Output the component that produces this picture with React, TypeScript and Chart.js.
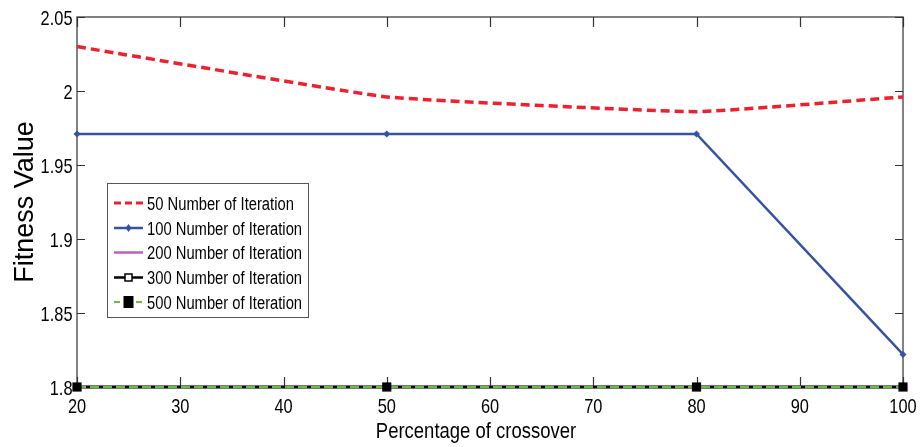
import React, { useEffect, useRef } from "react";
import { Chart, registerables } from "chart.js";

Chart.register(...registerables);

const crossover = [20, 50, 80, 100];
const iter50 = [2.03, 1.996, 1.986, 1.996];
const iter100 = [1.971, 1.971, 1.971, 1.822];
const iter200 = [1.8, 1.8, 1.8, 1.8];
const iter300 = [1.8, 1.8, 1.8, 1.8];
const iter500 = [1.8, 1.8, 1.8, 1.8];
const xTicks = [20, 30, 40, 50, 60, 70, 80, 90, 100];
const yTicks = [1.8, 1.85, 1.9, 1.95, 2, 2.05];
const xTitle = "Percentage of crossover";
const yTitle = "Fitness Value";
const legendLabels = [
  "50 Number of Iteration",
  "100 Number of Iteration",
  "200 Number of Iteration",
  "300 Number of Iteration",
  "500 Number of Iteration",
];

const RED = "#ef1f2b";
const BLUE = "#3553a6";
const MAGENTA = "#c05ec0";
const BLACK = "#000000";
const GREEN = "#68be44";
const SANS = "'Liberation Sans', Arial, sans-serif";

const pts = (ys: number[]) => crossover.map((x, i) => ({ x, y: ys[i] }));
const fmt = (v: any) => String(parseFloat(Number(v).toFixed(2)));

function squeezedText(ctx: any, text: string, x: number, y: number, size: number, sx: number, align: string) {
  ctx.save();
  ctx.translate(x, y);
  ctx.scale(sx, 1);
  ctx.font = `${size}px ${SANS}`;
  ctx.fillStyle = "#000";
  ctx.textAlign = align;
  ctx.textBaseline = "alphabetic";
  ctx.fillText(text, 0, 0);
  ctx.restore();
}

const framePlugin = {
  id: "frame",
  beforeDatasetsDraw(chart: any) {
    const { ctx, chartArea, scales } = chart;
    const { left, right, top, bottom } = chartArea;
    ctx.save();
    ctx.strokeStyle = "#5a5a5a";
    ctx.lineWidth = 1.5;
    ctx.strokeRect(left, top, right - left, bottom - top);
    ctx.strokeStyle = "#333";
    ctx.lineWidth = 1.2;
    ctx.beginPath();
    xTicks.forEach((v) => {
      const px = Math.round(scales.x.getPixelForValue(v)) + 0.5;
      ctx.moveTo(px, bottom);
      ctx.lineTo(px, bottom - 10);
      ctx.moveTo(px, top);
      ctx.lineTo(px, top + 10);
    });
    yTicks.forEach((v) => {
      const py = Math.round(scales.y.getPixelForValue(v)) + 0.5;
      ctx.moveTo(left, py);
      ctx.lineTo(left + 8, py);
      ctx.moveTo(right, py);
      ctx.lineTo(right - 8, py);
    });
    ctx.stroke();
    ctx.restore();
  },
  afterDraw(chart: any) {
    const { ctx, chartArea, scales } = chart;
    const { left, bottom } = chartArea;
    xTicks.forEach((v) => {
      const px = scales.x.getPixelForValue(v);
      squeezedText(ctx, fmt(v), px, bottom + 26, 21, 0.78, "center");
    });
    yTicks.forEach((v) => {
      const py = scales.y.getPixelForValue(v);
      squeezedText(ctx, fmt(v), left - 4.5, py + 7.5, 21, 0.78, "right");
    });
    const cx = (chartArea.left + chartArea.right) / 2 - 14;
    squeezedText(ctx, xTitle, cx, 438, 22, 0.84, "center");
  },
};

const legendPlugin = {
  id: "customLegend",
  afterDraw(chart: any) {
    const { ctx } = chart;
    const bx = 107, by = 183, bw = 201, bh = 134;
    ctx.save();
    ctx.fillStyle = "#fff";
    ctx.fillRect(bx, by, bw, bh);
    ctx.strokeStyle = "#555";
    ctx.lineWidth = 1;
    ctx.strokeRect(bx + 0.5, by + 0.5, bw, bh);
    const x0 = 114, x1 = 143, xc = 128.5;
    const rowY = [203, 228, 252.5, 277.5, 302];
    const styles = [
      { color: RED, dash: [7, 4], width: 3, marker: "" },
      { color: BLUE, dash: [], width: 2.5, marker: "diamond" },
      { color: MAGENTA, dash: [], width: 2.5, marker: "" },
      { color: BLACK, dash: [], width: 2.5, marker: "open" },
      { color: GREEN, dash: [6, 5], width: 2, marker: "filled" },
    ];
    styles.forEach((s, i) => {
      const y = rowY[i];
      ctx.strokeStyle = s.color;
      ctx.lineWidth = s.width;
      ctx.setLineDash(s.dash);
      ctx.beginPath();
      ctx.moveTo(x0, y);
      ctx.lineTo(x1, y);
      ctx.stroke();
      ctx.setLineDash([]);
      if (s.marker === "diamond") {
        ctx.fillStyle = BLUE;
        ctx.beginPath();
        ctx.moveTo(xc, y - 4);
        ctx.lineTo(xc + 3, y);
        ctx.lineTo(xc, y + 4);
        ctx.lineTo(xc - 3, y);
        ctx.closePath();
        ctx.fill();
      } else if (s.marker === "open") {
        ctx.fillStyle = "#fff";
        ctx.fillRect(xc - 3.5, y - 3.5, 7, 7);
        ctx.strokeStyle = BLACK;
        ctx.lineWidth = 1.5;
        ctx.strokeRect(xc - 3.5, y - 3.5, 7, 7);
      } else if (s.marker === "filled") {
        ctx.fillStyle = BLACK;
        ctx.fillRect(xc - 5, y - 6, 10, 12);
      }
      squeezedText(ctx, legendLabels[i], 147, y + 6.5, 18, 0.82, "left");
    });
    ctx.restore();
  },
};

export default function App() {
  const ref = useRef<HTMLCanvasElement | null>(null);
  useEffect(() => {
    document.body.style.margin = "0";
    const canvas = ref.current;
    if (!canvas) return;
    const chart = new Chart(canvas, {
      type: "line",
      data: {
        datasets: [
          {
            label: legendLabels[0],
            data: pts(iter50),
            borderColor: RED,
            borderWidth: 3.5,
            borderDash: [9, 5],
            pointRadius: 0,
            tension: 0.1,
            order: 4,
            clip: false,
          },
          {
            label: legendLabels[1],
            data: pts(iter100),
            borderColor: BLUE,
            backgroundColor: BLUE,
            borderWidth: 2.5,
            pointStyle: "rectRot",
            pointRadius: 3.5,
            pointBorderWidth: 0,
            order: 3,
            clip: false,
          },
          {
            label: legendLabels[2],
            data: pts(iter200),
            borderColor: MAGENTA,
            borderWidth: 2.5,
            pointRadius: 0,
            order: 2,
            clip: false,
          },
          {
            label: legendLabels[3],
            data: pts(iter300),
            borderColor: BLACK,
            backgroundColor: "#fff",
            borderWidth: 3,
            pointStyle: "rect",
            pointRadius: 4,
            pointBorderWidth: 1.5,
            order: 1,
            clip: false,
          },
          {
            label: legendLabels[4],
            data: pts(iter500),
            borderColor: GREEN,
            backgroundColor: BLACK,
            pointBorderColor: BLACK,
            borderWidth: 2.5,
            borderDash: [9, 4],
            pointStyle: "rect",
            pointRadius: 6.5,
            pointBorderWidth: 0,
            order: 0,
            clip: false,
          },
        ],
      },
      options: {
        animation: false,
        responsive: false,
        maintainAspectRatio: false,
        layout: { padding: { top: 17, right: 18, left: 0, bottom: 0 } },
        plugins: { legend: { display: false }, tooltip: { enabled: false } },
        scales: {
          x: {
            type: "linear",
            min: 20,
            max: 100,
            grid: { display: false, drawTicks: false },
            border: { display: false },
            ticks: { display: false, stepSize: 10 },
            title: { display: false },
            afterFit: (s: any) => {
              s.height = 60;
            },
          },
          y: {
            type: "linear",
            min: 1.8,
            max: 2.05,
            grid: { display: false, drawTicks: false },
            border: { display: false },
            ticks: { display: false, stepSize: 0.05 },
            title: {
              display: true,
              text: yTitle,
              color: "#000",
              font: { family: SANS, size: 27 },
              padding: { top: 9, bottom: 0 },
            },
            afterFit: (s: any) => {
              s.width = 77;
            },
          },
        },
      },
      plugins: [framePlugin, legendPlugin],
    } as any);
    return () => chart.destroy();
  }, []);
  return (
    <div style={{ width: 921, height: 447, background: "#fff" }}>
      <canvas ref={ref} width={921} height={447} style={{ display: "block" }} />
    </div>
  );
}
